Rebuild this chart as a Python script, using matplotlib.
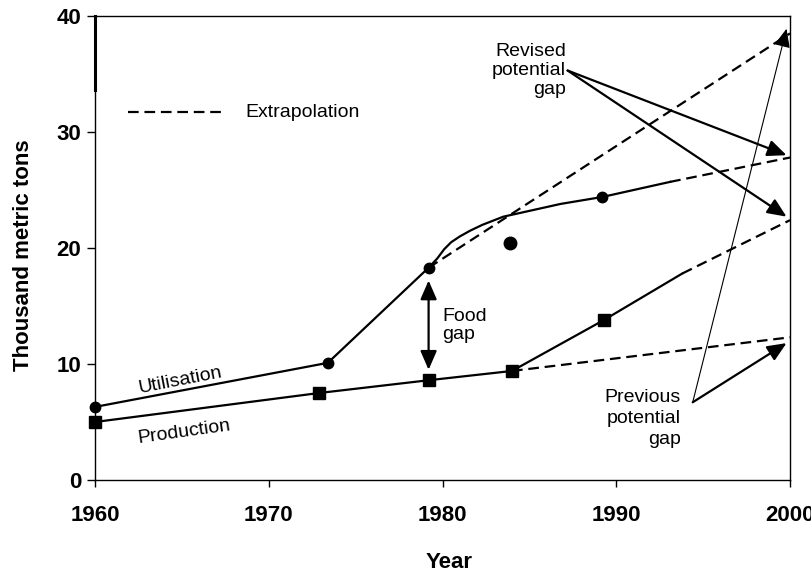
import matplotlib
matplotlib.use("Agg")
import matplotlib.pyplot as plt

# ---- data ----
util_marker_years = [1960, 1973.4, 1979.2, 1989.2]
util_marker_vals = [6.3, 10.1, 18.3, 24.4]
util_curve_years = [1960, 1973.4, 1979.2, 1979.7, 1980.1, 1980.5, 1981.0, 1981.6, 1982.3, 1983.5, 1986.8, 1989.2, 1991.0, 1993.1]
util_curve_vals = [6.3, 10.1, 18.3, 19.1, 19.9, 20.5, 21.0, 21.5, 22.0, 22.7, 23.8, 24.4, 25.0, 25.7]
util_outlier_year = [1983.9]
util_outlier_val = [20.4]
util_new_extrap_years = [1993.1, 2000]
util_new_extrap_vals = [25.7, 27.8]
util_old_extrap_years = [1979.2, 2000]
util_old_extrap_vals = [18.3, 38.5]

prod_marker_years = [1960, 1972.9, 1979.2, 1984.0, 1989.3]
prod_marker_vals = [5.0, 7.5, 8.6, 9.4, 13.8]
prod_line_years = [1960, 1972.9, 1979.2, 1984.0, 1989.3, 1993.8]
prod_line_vals = [5.0, 7.5, 8.6, 9.4, 13.8, 17.8]
prod_new_extrap_years = [1993.8, 2000]
prod_new_extrap_vals = [17.8, 22.4]
prod_old_extrap_years = [1984.0, 2000]
prod_old_extrap_vals = [9.4, 12.3]

x_ticks = [1960, 1970, 1980, 1990, 2000]
y_ticks = [0, 10, 20, 30, 40]

# ---- styling ----
bold_font = dict(family=["Liberation Sans", "DejaVu Sans"], weight="bold", size=16)
reg_font = dict(family=["Liberation Sans", "DejaVu Sans"], size=14)
lw = 1.6
dash = (0, (4.8, 2.6))
black = "black"

fig = plt.figure(figsize=(8.11, 5.76), dpi=100)
ax = fig.add_axes([95 / 811, 96 / 576, 695 / 811, 464 / 576])
ax.set_xlim(1960, 2000)
ax.set_ylim(0, 40)

# solid lines
ax.plot(util_curve_years, util_curve_vals, color=black, lw=lw, solid_joinstyle="round", zorder=3)
ax.plot(prod_line_years, prod_line_vals, color=black, lw=lw, zorder=3)
# dashed extrapolations
for xs, ys in [(util_new_extrap_years, util_new_extrap_vals),
               (util_old_extrap_years, util_old_extrap_vals),
               (prod_new_extrap_years, prod_new_extrap_vals),
               (prod_old_extrap_years, prod_old_extrap_vals)]:
    ax.plot(xs, ys, color=black, lw=lw, linestyle=dash, clip_on=False, zorder=3)

# markers
ax.plot(util_marker_years, util_marker_vals, "o", color=black, ms=7.5, clip_on=False, zorder=4)
ax.plot(util_outlier_year, util_outlier_val, "o", color=black, ms=9, zorder=4)
ax.plot(prod_marker_years, prod_marker_vals, "s", color=black, ms=8.5, clip_on=False, zorder=4)

# legend-like sample
ax.plot([0.047, 0.184], [0.793, 0.793], transform=ax.transAxes, color=black, lw=lw, linestyle=dash)
ax.text(0.216, 0.793, "Extrapolation", transform=ax.transAxes, va="center", ha="left", **reg_font)

# line labels
ax.text(1964.9, 8.6, "Utilisation", rotation=11, ha="center", va="center", rotation_mode="anchor", **reg_font)
ax.text(1965.1, 4.1, "Production", rotation=8, ha="center", va="center", rotation_mode="anchor", **reg_font)

# food gap
head = "-|>,head_length=1.15,head_width=0.5"
ax.annotate("", xy=(1979.2, 17.2), xytext=(1979.2, 9.5),
            arrowprops=dict(arrowstyle="<|-|>,head_length=1.15,head_width=0.5", color=black, lw=lw,
                            mutation_scale=10, shrinkA=0, shrinkB=0))
ax.text(1980.0, 13.3, "Food\ngap", ha="left", va="center", linespacing=1.1, **reg_font)

# revised potential gap
ax.text(1987.1, 35.3, "Revised\npotential\ngap", ha="right", va="center", linespacing=1.13, **reg_font)
rev_start = (1987.2, 35.3)
for yv in [util_new_extrap_vals[-1] + 0.2, prod_new_extrap_vals[-1] + 0.3]:
    ax.annotate("", xy=(1999.8, yv), xytext=rev_start,
                arrowprops=dict(arrowstyle=head, color=black, lw=lw, mutation_scale=10,
                                shrinkA=0, shrinkB=0))

# previous potential gap
ax.text(1993.7, 5.3, "Previous\npotential\ngap", ha="right", va="center", linespacing=1.29, **reg_font)
prev_start = (1994.4, 6.7)
ax.annotate("", xy=(1999.8, prod_old_extrap_vals[-1] - 0.5), xytext=prev_start,
            arrowprops=dict(arrowstyle=head, color=black, lw=lw, mutation_scale=10,
                            shrinkA=0, shrinkB=0))
ax.annotate("", xy=(1999.8, util_old_extrap_vals[-1] + 0.4), xytext=prev_start,
            arrowprops=dict(arrowstyle=head, color=black, lw=0.8, mutation_scale=10,
                            shrinkA=0, shrinkB=0), annotation_clip=False)

# axes styling
for s in ax.spines.values():
    s.set_linewidth(1.0)
    s.set_color(black)
ax.plot([0, 0], [0.84, 1.0], transform=ax.transAxes, color=black, lw=2.2, clip_on=False)

ax.set_xticks(x_ticks)
ax.set_yticks(y_ticks)
ax.tick_params(axis="y", direction="out", length=6, width=1.0, pad=4)
ax.tick_params(axis="x", direction="out", length=5, width=1.0, pad=13)
for lab in ax.get_xticklabels() + ax.get_yticklabels():
    lab.set_fontfamily(["Liberation Sans", "DejaVu Sans"])
    lab.set_fontweight("bold")
    lab.set_fontsize(16)

fig.text(24 / 811, 1 - 255 / 576, "Thousand metric tons", rotation=90, ha="center", va="center", **bold_font)
fig.text(449 / 811, 1 - 563 / 576, "Year", ha="center", va="center", **bold_font)

fig.savefig("out.png", dpi=100)
